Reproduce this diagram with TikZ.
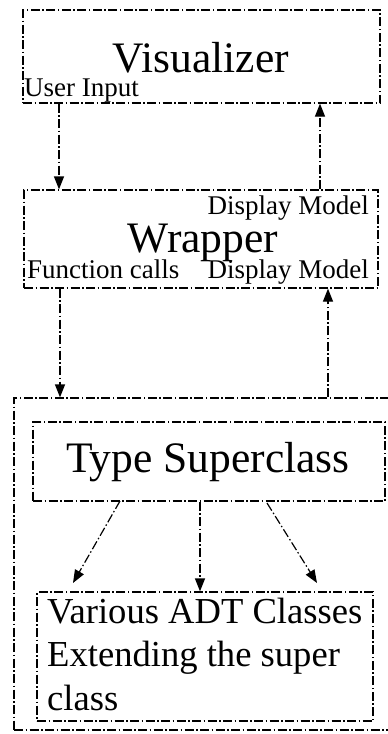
\documentclass[tikz,border=0pt]{standalone}
\usepackage{fontspec}
\setmainfont{Liberation Serif}
\usetikzlibrary{arrows.meta}

\tikzset{
  dashdot/.style={line width=1.2pt, dash pattern=on 9pt off 2.5pt on 1.5pt off 2.5pt},
  box/.style={dashdot, draw, inner sep=0pt},
  arr/.style={dashdot, -{Triangle[length=13pt,width=10pt]}},
  big/.style={font=\fontsize{43.5}{52}\selectfont, inner sep=0pt},
  small/.style={font=\fontsize{27}{32}\selectfont, inner sep=0pt},
  mid/.style={font=\fontsize{36.6}{44}\selectfont, inner sep=0pt},
}

\begin{document}
\begin{tikzpicture}[x=1pt,y=-1pt]
  \useasboundingbox (0,0) rectangle (388,734);
  \clip (0,0) rectangle (388,734);

  % boxes
  \node[box, minimum width=357pt, minimum height=93pt] (vis) at (201.5,56.5) {};
  \node[box, minimum width=354pt, minimum height=98pt] (wrap) at (201,239) {};
  \node[box, minimum width=378pt, minimum height=332pt] (outer) at (203,564) {};
  \node[box, minimum width=352pt, minimum height=79pt] (sup) at (209,461.5) {};
  \node[box, minimum width=336pt, minimum height=129pt] (adt) at (205,656.5) {};

  % labels
  \node[big, anchor=base] (vistxt) at (201,72) {Visualizer};
  \node[small, anchor=base west] (uin) at (24,96) {User Input};
  \node[small, anchor=base east] (dm1) at (369,214) {Display Model};
  \node[big, anchor=base] (wraptxt) at (203,252) {Wrapper};
  \node[small, anchor=base west] (fc) at (27,278) {Function calls};
  \node[small, anchor=base east] (dm2) at (369,278) {Display Model};
  \node[big, anchor=base] (suptxt) at (208,472) {Type Superclass};
  \node[mid, anchor=base west] (adt1) at (47,623) {Various ADT Classes};
  \node[mid, anchor=base west] (adt2) at (47,666) {Extending the super};
  \node[mid, anchor=base west] (adt3) at (47,710) {class};

  % connector end points
  \coordinate (a1) at (59,0);
  \coordinate (a2) at (320,0);
  \coordinate (a3) at (60,0);
  \coordinate (a4) at (328,0);
  \coordinate (a5) at (200,0);
  \coordinate (d1s) at (120,501);
  \coordinate (d1e) at (73,583);
  \coordinate (d3s) at (267,503);
  \coordinate (d3e) at (317,583);

  % connectors
  \draw[arr] (a1 |- vis.south) -- (a1 |- wrap.north);
  \draw[arr] (a2 |- wrap.north) -- (a2 |- vis.south);
  \draw[arr] (a3 |- wrap.south) -- (a3 |- outer.north);
  \draw[arr] (a4 |- outer.north) -- (a4 |- wrap.south);
  \draw[arr] (d1s) -- (d1e);
  \draw[arr] (a5 |- sup.south) -- (a5 |- adt.north);
  \draw[arr] (d3s) -- (d3e);
\end{tikzpicture}
\end{document}
